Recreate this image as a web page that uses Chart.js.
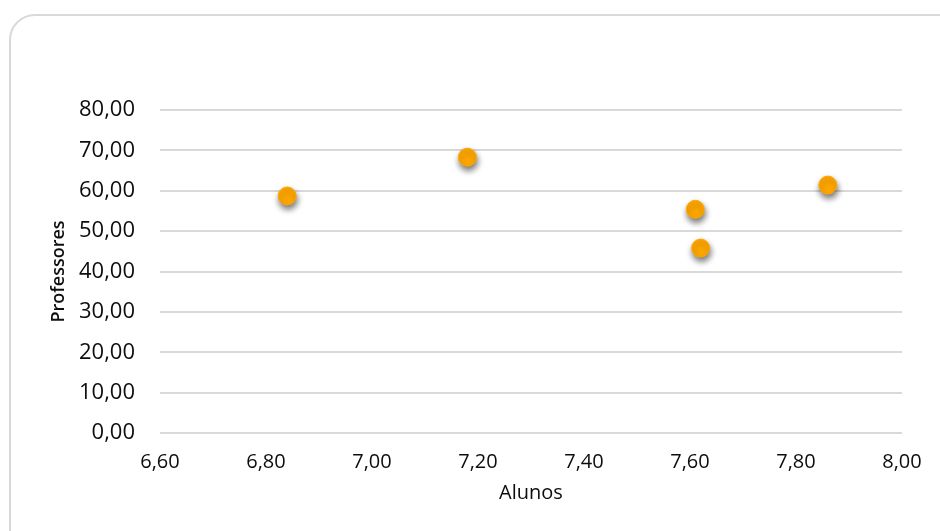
<!DOCTYPE html>
<html lang="pt-br">
<head>
    <meta charset="UTF-8">
    <script src="https://cdn.jsdelivr.net/npm/chart.js"></script>
    <title>Professores x Alunos</title>
    <style>
        body { margin: 0; background: #fff; overflow: hidden; }
        #moldura {
            position: absolute; left: 9px; top: 14px;
            width: 1000px; height: 600px;
            border: 2px solid #d9d9d9; border-radius: 26px;
        }
        #grafico { position: absolute; left: 0; top: 0; }
    </style>
</head>
<body>
    <div id="moldura"></div>
    <canvas id="grafico" width="940" height="531"></canvas>

<script>
    // dados
    var alunos = [6.84, 7.18, 7.61, 7.62, 7.86];
    var professores = [58.7, 68.3, 55.4, 45.8, 61.4];
    var tituloX = 'Alunos';
    var tituloY = 'Professores';

    var pontos = [];
    for (var i = 0; i < alunos.length; i++) {
        pontos.push({ x: alunos[i], y: professores[i] });
    }

    function virgula(v) {
        return Number(v).toFixed(2).replace('.', ',');
    }

    // sombra nas bolinhas
    const sombra = {
        id: 'sombra',
        beforeDatasetsDraw(chart) {
            chart.ctx.save();
            chart.ctx.shadowColor = 'rgba(0,0,0,0.55)';
            chart.ctx.shadowBlur = 6;
            chart.ctx.shadowOffsetX = 1;
            chart.ctx.shadowOffsetY = 4;
        },
        afterDatasetsDraw(chart) {
            chart.ctx.restore();
        }
    };

    new Chart(document.getElementById('grafico'), {
        type: 'scatter',
        data: {
            datasets: [{
                label: tituloY,
                data: pontos,
                backgroundColor: '#ffa700',
                borderColor: '#ffa700',
                borderWidth: 1,
                pointRadius: 9,
                pointHoverRadius: 9
            }]
        },
        options: {
            responsive: false,
            animation: false,
            layout: { padding: { top: 110, right: 38, left: 0, bottom: 0 } },
            plugins: { legend: { display: false }, tooltip: { enabled: false } },
            scales: {
                x: {
                    min: 6.6, max: 8.0,
                    afterFit(s) { s.height = 98; },
                    grid: { display: false, drawTicks: false, tickLength: 0 },
                    border: { display: false },
                    ticks: {
                        stepSize: 0.2,
                        padding: 17,
                        color: '#0d0d0d',
                        font: { family: 'Open Sans', size: 20 },
                        callback: function (v) { return virgula(v); }
                    },
                    title: {
                        display: true, text: tituloX, color: '#0d0d0d',
                        font: { family: 'Open Sans', size: 20 },
                        padding: { top: 0, bottom: 26 }
                    }
                },
                y: {
                    min: 0, max: 80,
                    afterFit(s) { s.width = 160; },
                    grid: { color: '#d9d9d9', lineWidth: 2, drawTicks: false, tickLength: 0 },
                    border: { display: false },
                    ticks: {
                        stepSize: 10,
                        padding: 25,
                        color: '#0d0d0d',
                        font: { family: 'Open Sans', size: 22 },
                        callback: function (v) { return virgula(v); }
                    },
                    title: {
                        display: true, text: tituloY, color: '#0d0d0d',
                        font: { family: 'Open Sans', size: 18, weight: '600' },
                        padding: { top: 48, bottom: 0 }
                    }
                }
            }
        },
        plugins: [sombra]
    });
</script>
</body>
</html>
